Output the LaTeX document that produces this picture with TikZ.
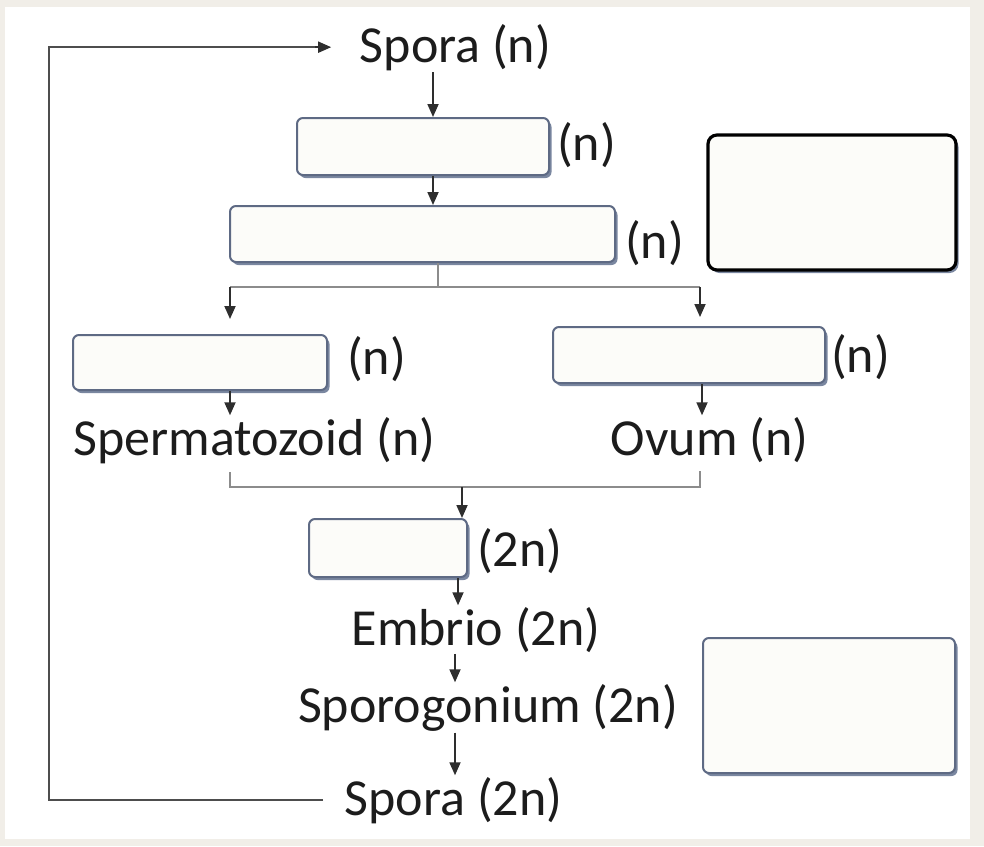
\documentclass[tikz,border=0pt]{standalone}
\usepackage{fontspec}
\setmainfont{Carlito}
\usetikzlibrary{arrows.meta,shadows}
\definecolor{bg}{HTML}{F1EEE8}
\definecolor{ink}{HTML}{1C1C1C}
\definecolor{boxline}{HTML}{5E6A84}
\definecolor{boxfill}{HTML}{FCFCF9}
\definecolor{shadowc}{HTML}{7A87A0}
\definecolor{linec}{HTML}{2E2E2E}
\definecolor{graylc}{HTML}{8C8C8C}
\begin{document}
\begin{tikzpicture}[x=1pt,y=-1pt,
  txt/.style={font=\fontsize{52}{60}\selectfont, text=ink, inner sep=1.5pt, anchor=base},
  lbl/.style={font=\fontsize{52}{60}\selectfont, text=ink, inner sep=0pt, anchor=west},
  box/.style={draw=boxline, line width=2pt, fill=boxfill, rounded corners=6pt, inner sep=0pt,
    drop shadow={shadow xshift=2.5pt, shadow yshift=-3pt, fill=shadowc, opacity=1}},
  darkbox/.style={box, draw=black, line width=3.2pt, rounded corners=9pt},
  arr/.style={draw=linec, line width=1.8pt, -{Triangle[width=11pt,length=13pt]}},
  ln/.style={draw=graylc, line width=1.8pt},
  loopln/.style={draw=linec!85!white, line width=2.2pt},
]
\useasboundingbox (0,0) rectangle (984,846);
\fill[bg] (0,0) rectangle (984,846);
\fill[white] (5,7) rectangle (970,839);

% text nodes
\node[txt] (spn)   at (455.5,62)  {Spora (n)};
\node[txt] (sperm) at (254.5,455) {Spermatozoid (n)};
\node[txt] (ovum)  at (709.5,455) {Ovum (n)};
\node[txt] (embr)  at (476,645)   {Embrio (2n)};
\node[txt] (sporg) at (488,722)   {Sporogonium (2n)};
\node[txt] (sp2n)  at (453.5,815) {Spora (2n)};

% boxes
\node[box, minimum width=252pt, minimum height=57pt] (b1) at (423,146.5) {};
\node[box, minimum width=385pt, minimum height=56pt] (b2) at (422.5,234) {};
\node[box, minimum width=254pt, minimum height=55pt] (b3) at (200,362.5) {};
\node[box, minimum width=272pt, minimum height=56pt] (b4) at (689,355) {};
\node[box, minimum width=158pt, minimum height=58pt] (b5) at (388,548) {};
\node[darkbox, minimum width=248pt, minimum height=135pt] (rb1) at (832,202.5) {};
\node[box, minimum width=252pt, minimum height=135pt] (rb2) at (829,705.5) {};

% ploidy labels
\node[lbl] (n1) at (557,145) {(n)};
\node[lbl] (n2) at (625,243) {(n)};
\node[lbl] (n3) at (347,359) {(n)};
\node[lbl] (n4) at (831,357) {(n)};
\node[lbl] (n5) at (477,551) {(2n)};

% x references
\coordinate (x433) at (433,0);
\coordinate (xl) at (49,0);
\coordinate (br)  at (438,287);
\coordinate (brl) at (230,287);
\coordinate (brr) at (700,287);
\coordinate (x702) at (702,0);
\coordinate (ml) at (230,487);
\coordinate (mr) at (700,487);
\coordinate (mm) at (462,487);
\coordinate (x458) at (458,0);
\coordinate (x455) at (455,0);

% connectors
\draw[arr] (spn.south -| x433) -- (b1.north -| x433);
\draw[arr] (b1.south -| x433) -- (b2.north -| x433);
\draw[ln] (b2.south -| br) -- (br);
\draw[ln] (brl) -- (brr);
\draw[arr, shorten >=15pt] (brl) -- (b3.north -| brl);
\draw[arr, shorten >=9pt] (brr) -- (b4.north -| brr);
\draw[arr] (b3.south -| brl) -- (sperm.north -| brl);
\draw[arr] (b4.south -| x702) -- (ovum.north -| x702);
\draw[ln] ([yshift=-7pt]sperm.south -| ml) -- (ml) -- (mr) -- ([yshift=-7pt]ovum.south -| mr);
\draw[arr] (mm) -- (b5.north -| mm);
\draw[arr] (b5.south -| x458) -- (embr.north -| x458);
\draw[arr] (embr.south -| x455) -- (sporg.north -| x455);
\draw[arr] (sporg.south -| x455) -- (sp2n.north -| x455);
\draw[loopln] ([xshift=-20pt]sp2n.west) -- (sp2n.west -| xl) -- (spn.west -| xl) -- ([xshift=-30pt]spn.west);
\draw[arr, shorten <=-1pt] ([xshift=-42pt]spn.west) -- ([xshift=-27pt]spn.west);
\end{tikzpicture}
\end{document}
